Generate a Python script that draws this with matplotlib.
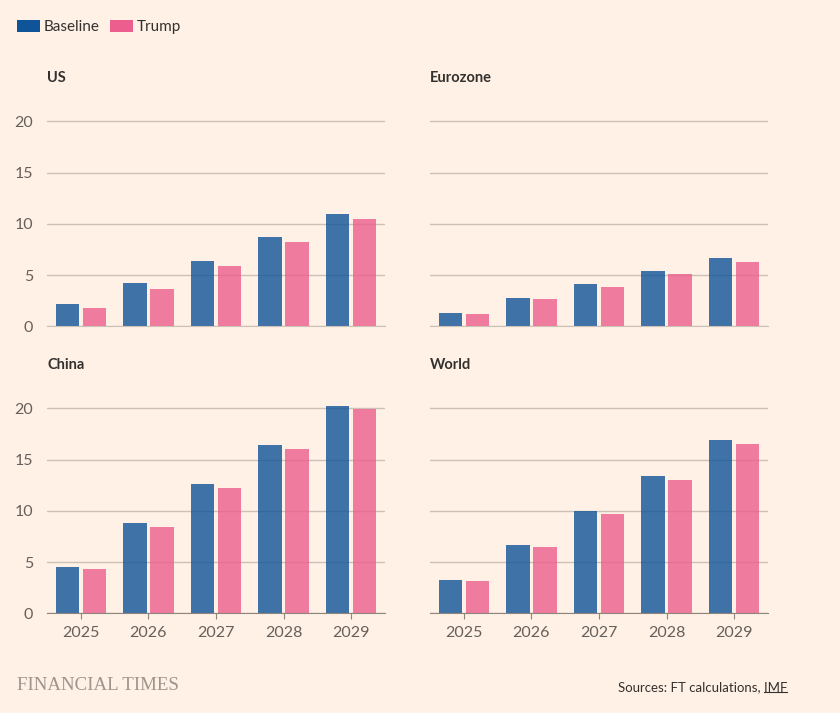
import matplotlib
matplotlib.use("Agg")
import matplotlib.pyplot as plt
import numpy as np
from matplotlib.patches import Patch

years = ["2025", "2026", "2027", "2028", "2029"]
series_names = ["Baseline", "Trump"]

us_baseline = [2.15, 4.23, 6.41, 8.68, 10.96]
us_trump = [1.76, 3.61, 5.89, 8.20, 10.50]
eurozone_baseline = [1.27, 2.73, 4.13, 5.40, 6.67]
eurozone_trump = [1.20, 2.63, 3.84, 5.07, 6.31]
china_baseline = [4.49, 8.78, 12.65, 16.42, 20.26]
china_trump = [4.29, 8.46, 12.26, 16.07, 19.93]
world_baseline = [3.25, 6.63, 9.98, 13.37, 16.88]
world_trump = [3.15, 6.47, 9.66, 13.00, 16.49]

panels = [
    ("US", us_baseline, us_trump),
    ("Eurozone", eurozone_baseline, eurozone_trump),
    ("China", china_baseline, china_trump),
    ("World", world_baseline, world_trump),
]

BG = "#fff1e5"
BLUE = "#0f5499"
PINK = "#eb5e8d"
GRID = "#ccc1b7"
AXIS = "#8f857d"
TEXT = "#66605c"
DARK = "#33302e"

plt.rcParams["font.family"] = ["Lato", "DejaVu Sans"]

W, H = 840, 713
fig = plt.figure(figsize=(W / 100, H / 100), dpi=100, facecolor=BG)

# panel boxes in pixels: left, right, y of zero line
lefts = [47, 430]
zeros = [326.3, 613.3]
px_per_unit = 10.25
ytop = 21
width_px = 338
height_px = ytop * px_per_unit

x = np.arange(len(years))
bw = 0.345
off = 0.2

for i, (name, base, trump) in enumerate(panels):
    row, col = divmod(i, 2)
    l = lefts[col]
    z = zeros[row]
    ax = fig.add_axes([l / W, (H - z) / H, width_px / W, height_px / H])
    ax.set_facecolor(BG)
    ax.bar(x - off, base, bw, color=BLUE, alpha=0.8, zorder=3)
    ax.bar(x + off, trump, bw, color=PINK, alpha=0.8, zorder=3)
    ax.set_xlim(-0.5, 4.5)
    ax.set_ylim(0, ytop)
    ax.set_yticks([0, 5, 10, 15, 20])
    ax.grid(axis="y", color=GRID, linewidth=1, zorder=0)
    ax.grid(axis="x", visible=False)
    for s in ["top", "right", "left"]:
        ax.spines[s].set_visible(False)
    ax.tick_params(axis="y", length=0, pad=10, labelsize=11.5, labelcolor=TEXT)
    if col == 1:
        ax.tick_params(axis="y", labelleft=False)
    ax.set_xticks(x)
    if row == 0:
        ax.spines["bottom"].set_color(GRID)
        ax.tick_params(axis="x", length=0, labelbottom=False)
    else:
        ax.spines["bottom"].set_color(AXIS)
        ax.set_xticklabels(years)
        ax.tick_params(axis="x", length=4, color=AXIS, pad=5,
                       labelsize=11.5, labelcolor=TEXT)
    ax.spines["bottom"].set_zorder(4)
    title_y = 78 if row == 0 else 365
    fig.text(l / W, 1 - title_y / H, name, fontsize=10.5, fontweight="bold",
             color=DARK, va="center", ha="left")

handles = [Patch(facecolor=BLUE), Patch(facecolor=PINK)]
fig.legend(handles, series_names, loc="upper left",
           bbox_to_anchor=(17 / W, 1 - 20 / H), ncol=2, frameon=False,
           handlelength=1.5, handleheight=0.8, handletextpad=0.25,
           columnspacing=0.7, borderpad=0, borderaxespad=0,
           fontsize=11, labelcolor=DARK)

fig.text(17 / W, 1 - 685 / H, "FINANCIAL TIMES", fontsize=13.6,
         family=["Liberation Serif", "DejaVu Serif"], color="#9e948c",
         va="center", ha="left")
src = fig.text(787 / W, 1 - 687 / H, "Sources: FT calculations, IMF",
               fontsize=9.5, color=DARK, va="center", ha="right")

# underline the IMF link
fig.canvas.draw()
r = fig.canvas.get_renderer()
bb = src.get_window_extent(r)
imf_w = fig.text(0, 0, "IMF", fontsize=9.5).get_window_extent(r).width
fig.texts[-1].remove()
fig.add_artist(plt.Line2D([(bb.x1 - imf_w) / W, bb.x1 / W],
                          [(bb.y0 + 1) / H, (bb.y0 + 1) / H],
                          color=DARK, linewidth=0.8))

fig.savefig("out.png", dpi=100, facecolor=BG)
